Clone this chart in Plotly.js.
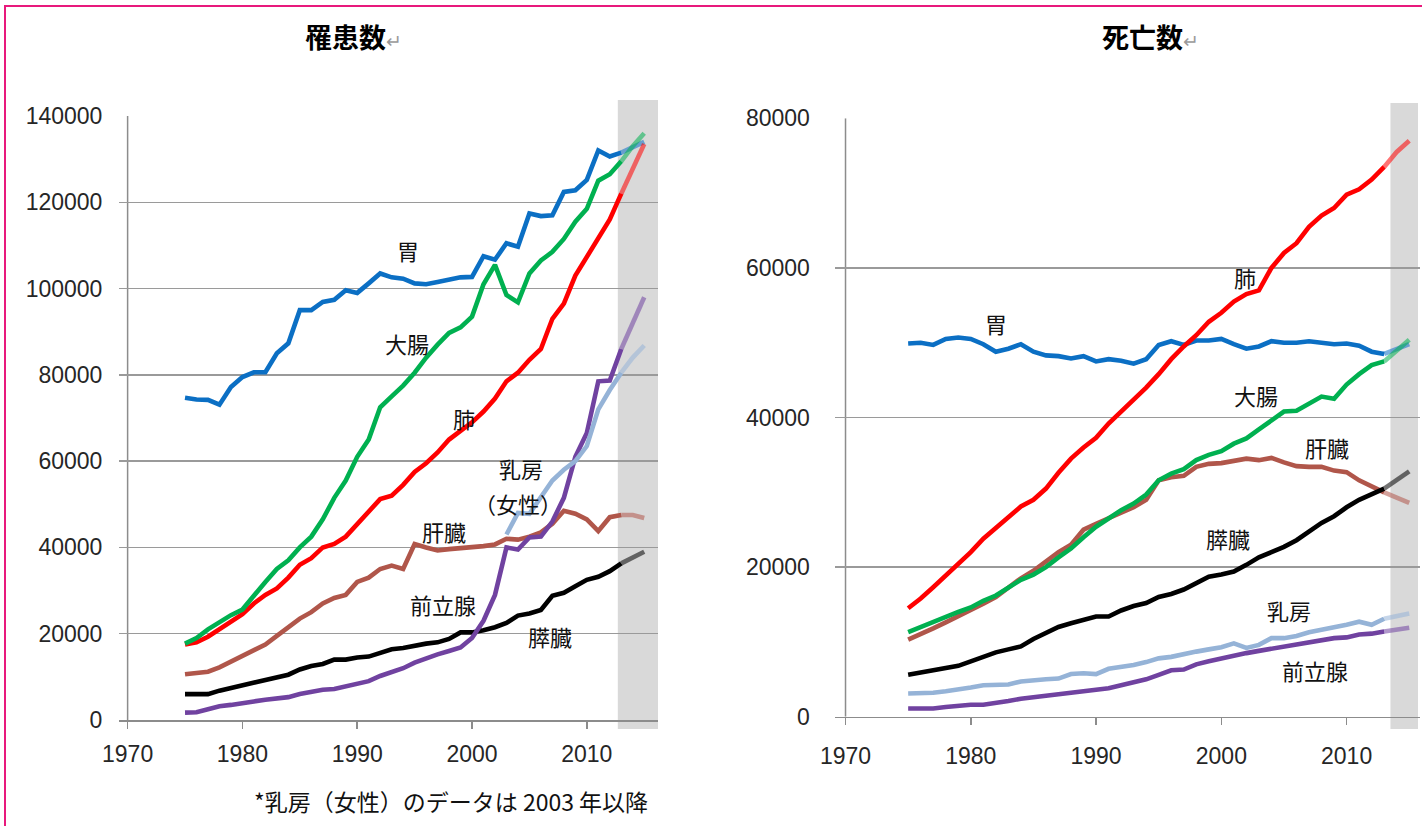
<!DOCTYPE html>
<html>
<head>
<meta charset="utf-8">
<script src="https://cdn.plot.ly/plotly-3.0.1.min.js"></script>
<style>
html,body{margin:0;padding:0;background:#ffffff;}
#chart{position:absolute;left:0;top:0;width:1422px;height:826px;}
#frame{position:absolute;left:4px;top:5px;width:1418px;height:821px;border-top:2px solid #e8197c;border-left:2px solid #e8197c;pointer-events:none;}
</style>
</head>
<body>
<div id="chart"></div>
<div id="frame"></div>
<script>
// ---------- data ----------
const years = [1975,1976,1977,1978,1979,1980,1981,1982,1983,1984,
               1985,1986,1987,1988,1989,1990,1991,1992,1993,1994,
               1995,1996,1997,1998,1999,2000,2001,2002,2003,2004,
               2005,2006,2007,2008,2009,2010,2011,2012,2013,2014,2015];
const splitYear = 2013;   // later values are projections (shaded band)

const xTickVals = [1970, 1980, 1990, 2000, 2010];
const yTicksIncidence = [0, 20000, 40000, 60000, 80000, 100000, 120000, 140000];
const yTicksDeath = [0, 20000, 40000, 60000, 80000];

const seriesNames = ['胃', '大腸', '肺', '肝臓', '膵臓', '前立腺', '乳房'];

// 罹患数 (incidence)
const incStomach  = [74700,74300,74200,73100,77200,79500,80600,80600,85000,87300,
                     95000,95000,96900,97400,99600,99000,101200,103500,102600,102300,
                     101200,101000,101500,102000,102600,102700,107500,106700,110500,109700,
                     117400,116800,117000,122400,122800,125200,132000,130600,131500,132700,134000];
const incColon    = [17700,19000,21000,22800,24300,25600,28900,32000,35000,37000,
                     40000,42500,46500,51500,55500,61000,65000,72500,75000,77500,
                     80500,84000,87000,89700,91000,93500,101000,105500,98500,96800,
                     103500,106500,108500,111500,115500,118500,125000,126500,129500,133000,136000];
const incLung     = [17500,18000,19300,21000,23000,24500,27000,29000,30500,33000,
                     36000,37500,40000,40800,42500,45500,48500,51200,52000,54500,
                     57500,59500,62000,65000,67000,69000,71500,74500,78500,80500,
                     83500,86000,93000,96500,103000,107500,111500,116000,122000,128000,133500];
const incLiver    = [10600,11000,11200,12200,13500,14900,16300,17500,19500,21500,
                     23500,25000,27000,28300,29000,32000,33000,35000,35800,35000,
                     40800,40000,39300,39600,39800,40000,40300,40700,42000,41800,
                     42500,43500,45500,48500,47800,46500,43800,47000,47500,47500,46800];
const incPancreas = [6000,6000,6000,6800,7400,7900,8600,9300,9900,10500,
                     11700,12500,13000,14000,14000,14500,14700,15500,16400,16700,
                     17300,17700,18000,18800,20300,20300,20800,21500,22500,24200,
                     24700,25500,28800,29500,31000,32500,33200,34500,36300,37700,39000];
const incProstate = [1700,1800,2500,3200,3500,4000,4300,4700,5000,5300,
                     6000,6600,7000,7200,7800,8300,9000,10200,11000,12000,
                     13300,14300,15200,16000,16800,19000,23000,29000,40000,39500,
                     42300,42500,46000,51500,61000,66500,78500,78700,86000,92000,98000];
const incBreast   = [null,null,null,null,null,null,null,null,null,null,
                     null,null,null,null,null,null,null,null,null,null,
                     null,null,null,null,null,null,null,null,43000,48000,
                     47800,51500,55500,58000,60000,63500,72000,76500,80500,84000,86800];

// 死亡数 (deaths)
const dthStomach  = [49900,50000,49700,50500,50700,50500,49800,48800,49200,49800,
                     48800,48300,48200,47900,48200,47500,47800,47600,47200,47800,
                     49700,50200,49700,50300,50300,50500,49800,49200,49500,50200,
                     50000,50000,50200,50000,49800,49900,49600,48800,48500,49200,49800];
const dthLung     = [14500,15800,17300,18800,20500,22000,23800,25200,26500,28100,
                     29000,30500,32600,34500,36000,37300,39200,40800,42300,44000,
                     45800,47800,49500,51000,52800,54000,55500,56500,57000,60000,
                     62000,63300,65500,67000,68000,69800,70500,71800,73500,75500,77000];
const dthColon    = [11300,12000,12700,13300,14000,14600,15500,16200,17200,18300,
                     19000,20000,21300,22500,24000,25400,26500,27600,28500,29700,
                     31600,32500,33100,34300,35000,35500,36500,37200,38400,39600,
                     40800,40900,41800,42800,42500,44400,45800,47000,47500,49000,50400];
const dthLiver    = [10300,11000,11800,12600,13400,14200,15100,16000,17300,18500,
                     19500,20800,22000,23000,25000,25800,26500,27300,28000,29000,
                     31600,32000,32200,33400,33800,33900,34200,34500,34300,34600,
                     34000,33500,33400,33400,32900,32700,31600,30800,30000,29300,28600];
const dthPancreas = [5600,5900,6200,6500,6800,7400,8000,8600,9000,9400,
                     10400,11200,12000,12500,13000,13400,13400,14200,14800,15200,
                     16000,16400,17000,17800,18700,19000,19400,20300,21300,22000,
                     22700,23600,24700,25900,26800,28000,29000,29700,30500,31600,32800];
const dthBreast   = [3100,3100,3200,3400,3600,3900,4200,4200,4300,4700,
                     4900,5000,5100,5700,5800,5700,6400,6600,6900,7300,
                     7800,8000,8400,8700,9000,9300,9800,9200,9600,10500,
                     10500,10800,11300,11600,12000,12300,12700,12300,13100,13500,13800];
const dthProstate = [1100,1100,1100,1300,1500,1600,1600,1800,2100,2400,
                     2600,2800,3000,3100,3400,3500,3800,4200,4600,5000,
                     5600,6200,6300,7000,7400,7800,8200,8500,8800,9100,
                     9400,9700,10000,10300,10500,10600,11000,11100,11400,11600,11900];

// ---------- styles ----------
const colors = {
  '胃': '#0b6fc4', '大腸': '#00b050', '肺': '#ff0000', '肝臓': '#b0564a',
  '膵臓': '#000000', '前立腺': '#7042a0', '乳房': '#95b3d7'
};
const LINE_W = 4.6;

function seriesTraces(name, vals, xa, ya) {
  const xa1 = [], ya1 = [], xp = [], yp = [];
  years.forEach((yr, i) => {
    const v = vals[i];
    if (v === null || v === undefined) return;
    if (yr <= splitYear) { xa1.push(yr); ya1.push(v); }
    if (yr >= splitYear) { xp.push(yr); yp.push(v); }
  });
  const base = {type: 'scatter', mode: 'lines', xaxis: xa, yaxis: ya, name: name,
                hoverinfo: 'skip', line: {color: colors[name], width: LINE_W, shape: 'linear'}};
  return [
    Object.assign({}, base, {x: xa1, y: ya1}),
    Object.assign({}, base, {x: xp, y: yp, opacity: 0.55})
  ];
}

const incOrder = [['胃', incStomach], ['肝臓', incLiver], ['膵臓', incPancreas],
                  ['前立腺', incProstate], ['乳房', incBreast], ['肺', incLung], ['大腸', incColon]];
const dthOrder = [['胃', dthStomach], ['肝臓', dthLiver], ['膵臓', dthPancreas],
                  ['前立腺', dthProstate], ['乳房', dthBreast], ['肺', dthLung], ['大腸', dthColon]];

let traces = [];
incOrder.forEach(([n, v]) => { traces = traces.concat(seriesTraces(n, v, 'x', 'y')); });
dthOrder.forEach(([n, v]) => { traces = traces.concat(seriesTraces(n, v, 'x2', 'y2')); });

const W = 1422, H = 826;
const tickFont = {family: 'Liberation Sans, Arial, sans-serif', size: 23, color: '#262626'};
const axisGray = '#8c8c8c';

function xAxis(domain, range, anchor, standoff) {
  return {domain: domain, range: range, anchor: anchor, tickmode: 'array', tickvals: xTickVals,
          ticktext: xTickVals.map(String), showgrid: false, zeroline: false,
          showline: true, linecolor: axisGray, linewidth: 1.5,
          ticks: 'outside', ticklen: 7, tickwidth: 1.5, tickcolor: axisGray,
          ticklabelstandoff: standoff, tickfont: tickFont, fixedrange: true};
}
function yAxis(domain, range, anchor, vals, pad) {
  return {domain: domain, range: range, anchor: anchor, tickmode: 'array', tickvals: vals,
          ticktext: vals.map(String), showgrid: true, gridcolor: '#9a9a9a', gridwidth: 1.5,
          zeroline: false, showline: false, ticks: 'outside', ticklen: pad,
          tickcolor: 'rgba(0,0,0,0)', tickfont: tickFont, fixedrange: true};
}

const labelFont = {family: 'Noto Sans CJK JP, sans-serif', size: 22, color: '#111'};
function lab(text, x, y, xref, yref) {
  return {text: text, x: x, y: y, xref: xref, yref: yref, showarrow: false,
          font: labelFont, xanchor: 'center', yanchor: 'middle'};
}

const annotations = [
  // titles
  {text: '<b>罹患数</b><span style="color:#9a9a9a;font-size:19px">↵</span>', x: 353 / W, y: 1 - 36 / H,
   xref: 'paper', yref: 'paper', showarrow: false, xanchor: 'center', yanchor: 'middle',
   font: {family: 'Noto Sans CJK JP, sans-serif', size: 27, color: '#000'}},
  {text: '<b>死亡数</b><span style="color:#9a9a9a;font-size:19px">↵</span>', x: 1150 / W, y: 1 - 36 / H,
   xref: 'paper', yref: 'paper', showarrow: false, xanchor: 'center', yanchor: 'middle',
   font: {family: 'Noto Sans CJK JP, sans-serif', size: 27, color: '#000'}},
  // footnote
  {text: '*乳房（女性）のデータは 2003 年以降', x: 451 / W, y: 1 - 801 / H, xref: 'paper', yref: 'paper',
   showarrow: false, xanchor: 'center', yanchor: 'middle',
   font: {family: 'Noto Sans CJK JP, sans-serif', size: 23, color: '#111'}},
  // incidence labels
  lab('胃', 1994.4, 108900, 'x', 'y'),
  lab('大腸', 1994.3, 87500, 'x', 'y'),
  lab('肺', 1999.3, 69900, 'x', 'y'),
  lab('乳房', 2004.3, 58500, 'x', 'y'),
  lab('（女性）', 2004.0, 50200, 'x', 'y'),
  lab('肝臓', 1997.6, 43900, 'x', 'y'),
  lab('前立腺', 1997.5, 26900, 'x', 'y'),
  lab('膵臓', 2006.8, 19500, 'x', 'y'),
  // death labels
  lab('胃', 1982.0, 52600, 'x2', 'y2'),
  lab('肺', 2001.9, 58800, 'x2', 'y2'),
  lab('大腸', 2002.8, 43000, 'x2', 'y2'),
  lab('肝臓', 2008.4, 36100, 'x2', 'y2'),
  lab('膵臓', 2000.5, 23900, 'x2', 'y2'),
  lab('乳房', 2005.4, 14300, 'x2', 'y2'),
  lab('前立腺', 2007.5, 6200, 'x2', 'y2')
];

const shapes = [
  // projection bands
  {type: 'rect', xref: 'x', yref: 'paper', x0: 2012.7, x1: 2016.2, y0: 1 - 729 / H, y1: 1 - 100 / H,
   fillcolor: '#d9d9d9', line: {width: 0}, layer: 'below'},
  {type: 'rect', xref: 'x2', yref: 'paper', x0: 2013.5, x1: 2015.7, y0: 1 - 729 / H, y1: 1 - 103 / H,
   fillcolor: '#d9d9d9', line: {width: 0}, layer: 'below'},
  // vertical value axes
  {type: 'line', xref: 'x', yref: 'y', x0: 1970, x1: 1970, y0: 0, y1: 140000,
   line: {color: axisGray, width: 1.5}, layer: 'below'},
  {type: 'line', xref: 'x2', yref: 'y2', x0: 1970, x1: 1970, y0: 0, y1: 80000,
   line: {color: axisGray, width: 1.5}, layer: 'below'}
];

const layout = {
  width: W, height: H, margin: {l: 0, r: 0, t: 0, b: 0, pad: 0},
  paper_bgcolor: '#ffffff', plot_bgcolor: 'rgba(0,0,0,0)', showlegend: false,
  font: {family: 'Liberation Sans, Arial, sans-serif', color: '#262626'},
  xaxis: xAxis([119 / W, 658 / W], [1969.25, 2016.2], 'y', 6),
  yaxis: yAxis([1 - 720 / H, 1 - 116 / H], [0, 140000], 'x', yTicksIncidence, 11),
  xaxis2: xAxis([834.5 / W, 1420 / W], [1969.12, 2015.86], 'y2', 11),
  yaxis2: yAxis([1 - 716.7 / H, 1 - 118.3 / H], [0, 80000], 'x2', yTicksDeath, 19),
  annotations: annotations,
  shapes: shapes
};

Plotly.newPlot('chart', traces, layout, {staticPlot: true, displayModeBar: false});
</script>
</body>
</html>
